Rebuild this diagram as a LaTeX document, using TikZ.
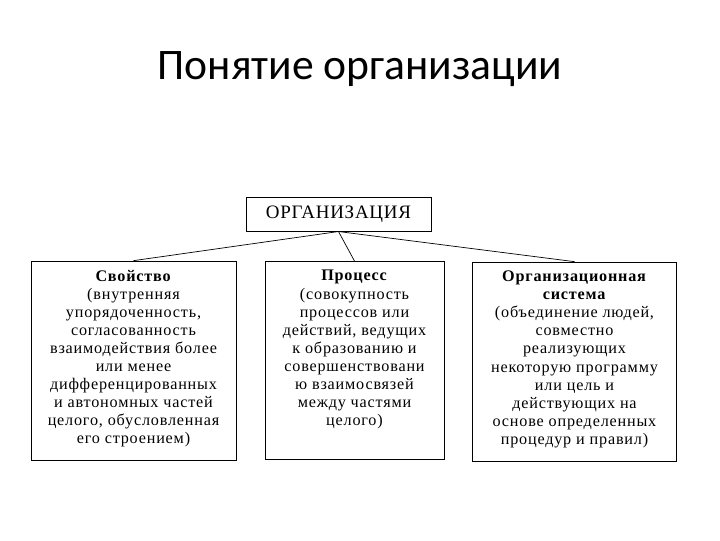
\documentclass[tikz,border=0pt]{standalone}
\usepackage{fontspec}
\setmainfont{Liberation Serif}
\newfontfamily\titlefont{Carlito}
\usetikzlibrary{calc}

\tikzset{
  orgbox/.style={draw,line width=0.6pt,inner sep=0pt},
  orgtext/.style={anchor=north,align=center,inner sep=0pt,
    font=\fontsize{11.5}{12.85}\selectfont\addfontfeature{LetterSpace=5}},
  link/.style={line width=0.5pt}
}

\begin{document}
\begin{tikzpicture}[x=0.025cm,y=-0.025cm]
        \useasboundingbox (0,0) rectangle (720,540);

        \node[font=\titlefont\fontsize{31}{36}\selectfont] (title) at (360,69) {Понятие организации};

        \node[orgbox,minimum width=4.62cm,minimum height=0.83cm] (orgbox) at (338.5,214.5) {};
        \node[font=\fontsize{13.5}{15}\selectfont\addfontfeature{LetterSpace=4}] (orgname) at (orgbox.center) {ОРГАНИЗАЦИЯ};

        \node[orgbox,minimum width=5.12cm,minimum height=4.97cm] (prop) at (133.5,360.5) {};
        \node[orgbox,minimum width=4.47cm,minimum height=4.95cm] (proc) at (354.5,360.5) {};
        \node[orgbox,minimum width=5.10cm,minimum height=4.97cm] (sys) at (574.5,361.5) {};

        % texts
        \node[orgtext] (proptext) at ($(prop.north)+(0,9)$) {\textbf{Свойство}\\
          (внутренняя\\ упорядоченность,\\ согласованность\\ взаимодействия более\\ или менее\\
          дифференцированных\\ и автономных частей\\ целого, обусловленная\\ его строением)};
        \node[orgtext] (proctext) at ($(proc.north)+(0,9)$) {\textbf{Процесс}\\
          (совокупность\\ процессов или\\ действий, ведущих\\ к образованию и\\ совершенствовани\\
          ю взаимосвязей\\ между частями\\ целого)};
        \node[orgtext] (systext) at ($(sys.north)+(0,9)$) {\textbf{Организационная}\\ \textbf{система}\\
          (объединение людей,\\ совместно\\ реализующих\\ некоторую программу\\ или цель и\\
          действующих на\\ основе определенных\\ процедур и правил)};

        \draw[link] (orgbox.south) -- (prop.north);
        \draw[link] (orgbox.south) -- (proc.north);
        \draw[link] (orgbox.south) -- (sys.north);
    \end{tikzpicture}
\end{document}
